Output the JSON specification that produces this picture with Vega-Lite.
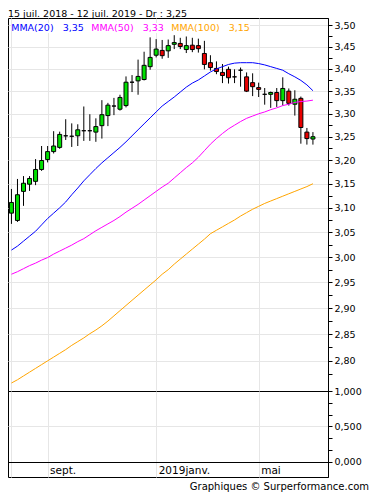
{
  "$schema": "https://vega.github.io/schema/vega-lite/v6.json",
  "background": "white",
  "padding": {"left": 7, "right": 7, "top": 8, "bottom": 3},
  "title": {"text": "15 juil. 2018 - 12 juil. 2019 - Dr : 3,25", "anchor": "start", "frame": "group", "font": "DejaVu Sans", "fontSize": 9.5, "fontWeight": "normal", "color": "#000", "baseline": "alphabetic", "offset": -8.7},
  "config": {
    "view": {"stroke": "#000", "strokeWidth": 1},
    "font": "DejaVu Sans",
    "axis": {"labelFont": "DejaVu Sans", "labelColor": "#000", "tickColor": "#000", "domainColor": "#000", "gridColor": "#e6e6e6", "labelOverlap": false, "labelFlush": false}
  },
  "datasets": {
    "candles": [
      {"date": "2018-07-23", "open": 3.089, "high": 3.139, "low": 3.067, "close": 3.111, "ma20": 3.014, "ma50": 2.966, "ma100": 2.759},
      {"date": "2018-07-30", "open": 3.074, "high": 3.160, "low": 3.071, "close": 3.127, "ma20": 3.022, "ma50": 2.971, "ma100": 2.765},
      {"date": "2018-08-06", "open": 3.134, "high": 3.166, "low": 3.104, "close": 3.151, "ma20": 3.032, "ma50": 2.977, "ma100": 2.772},
      {"date": "2018-08-13", "open": 3.149, "high": 3.166, "low": 3.135, "close": 3.161, "ma20": 3.042, "ma50": 2.983, "ma100": 2.779},
      {"date": "2018-08-20", "open": 3.155, "high": 3.202, "low": 3.147, "close": 3.180, "ma20": 3.052, "ma50": 2.988, "ma100": 2.786},
      {"date": "2018-08-27", "open": 3.180, "high": 3.230, "low": 3.177, "close": 3.199, "ma20": 3.065, "ma50": 2.994, "ma100": 2.793},
      {"date": "2018-09-03", "open": 3.201, "high": 3.230, "low": 3.195, "close": 3.218, "ma20": 3.078, "ma50": 2.999, "ma100": 2.800},
      {"date": "2018-09-10", "open": 3.218, "high": 3.262, "low": 3.214, "close": 3.230, "ma20": 3.089, "ma50": 3.006, "ma100": 2.807},
      {"date": "2018-09-17", "open": 3.227, "high": 3.261, "low": 3.224, "close": 3.255, "ma20": 3.100, "ma50": 3.012, "ma100": 2.814},
      {"date": "2018-09-24", "open": 3.252, "high": 3.288, "low": 3.243, "close": 3.252, "ma20": 3.112, "ma50": 3.018, "ma100": 2.821},
      {"date": "2018-10-01", "open": 3.251, "high": 3.279, "low": 3.228, "close": 3.251, "ma20": 3.127, "ma50": 3.024, "ma100": 2.829},
      {"date": "2018-10-08", "open": 3.252, "high": 3.277, "low": 3.230, "close": 3.265, "ma20": 3.141, "ma50": 3.031, "ma100": 2.836},
      {"date": "2018-10-15", "open": 3.263, "high": 3.316, "low": 3.241, "close": 3.263, "ma20": 3.156, "ma50": 3.037, "ma100": 2.843},
      {"date": "2018-10-22", "open": 3.263, "high": 3.299, "low": 3.241, "close": 3.263, "ma20": 3.169, "ma50": 3.045, "ma100": 2.851},
      {"date": "2018-10-29", "open": 3.260, "high": 3.290, "low": 3.239, "close": 3.272, "ma20": 3.182, "ma50": 3.053, "ma100": 2.858},
      {"date": "2018-11-05", "open": 3.274, "high": 3.330, "low": 3.246, "close": 3.298, "ma20": 3.194, "ma50": 3.060, "ma100": 2.866},
      {"date": "2018-11-12", "open": 3.296, "high": 3.324, "low": 3.273, "close": 3.319, "ma20": 3.205, "ma50": 3.067, "ma100": 2.875},
      {"date": "2018-11-19", "open": 3.317, "high": 3.335, "low": 3.297, "close": 3.317, "ma20": 3.216, "ma50": 3.074, "ma100": 2.885},
      {"date": "2018-11-26", "open": 3.310, "high": 3.342, "low": 3.307, "close": 3.336, "ma20": 3.227, "ma50": 3.082, "ma100": 2.895},
      {"date": "2018-12-03", "open": 3.318, "high": 3.383, "low": 3.314, "close": 3.370, "ma20": 3.239, "ma50": 3.091, "ma100": 2.905},
      {"date": "2018-12-10", "open": 3.370, "high": 3.386, "low": 3.348, "close": 3.370, "ma20": 3.252, "ma50": 3.099, "ma100": 2.915},
      {"date": "2018-12-17", "open": 3.373, "high": 3.421, "low": 3.342, "close": 3.383, "ma20": 3.265, "ma50": 3.107, "ma100": 2.925},
      {"date": "2018-12-24", "open": 3.376, "high": 3.439, "low": 3.374, "close": 3.408, "ma20": 3.278, "ma50": 3.116, "ma100": 2.935},
      {"date": "2018-12-31", "open": 3.405, "high": 3.472, "low": 3.398, "close": 3.426, "ma20": 3.291, "ma50": 3.125, "ma100": 2.945},
      {"date": "2019-01-07", "open": 3.431, "high": 3.468, "low": 3.426, "close": 3.445, "ma20": 3.304, "ma50": 3.134, "ma100": 2.955},
      {"date": "2019-01-14", "open": 3.442, "high": 3.466, "low": 3.423, "close": 3.430, "ma20": 3.317, "ma50": 3.143, "ma100": 2.966},
      {"date": "2019-01-21", "open": 3.441, "high": 3.467, "low": 3.425, "close": 3.453, "ma20": 3.327, "ma50": 3.151, "ma100": 2.975},
      {"date": "2019-01-28", "open": 3.456, "high": 3.477, "low": 3.445, "close": 3.460, "ma20": 3.337, "ma50": 3.162, "ma100": 2.986},
      {"date": "2019-02-04", "open": 3.458, "high": 3.471, "low": 3.445, "close": 3.451, "ma20": 3.348, "ma50": 3.173, "ma100": 2.996},
      {"date": "2019-02-11", "open": 3.444, "high": 3.474, "low": 3.436, "close": 3.453, "ma20": 3.359, "ma50": 3.184, "ma100": 3.006},
      {"date": "2019-02-18", "open": 3.454, "high": 3.471, "low": 3.438, "close": 3.444, "ma20": 3.368, "ma50": 3.194, "ma100": 3.016},
      {"date": "2019-02-25", "open": 3.453, "high": 3.469, "low": 3.437, "close": 3.446, "ma20": 3.375, "ma50": 3.206, "ma100": 3.026},
      {"date": "2019-03-04", "open": 3.435, "high": 3.464, "low": 3.399, "close": 3.410, "ma20": 3.384, "ma50": 3.220, "ma100": 3.036},
      {"date": "2019-03-11", "open": 3.414, "high": 3.431, "low": 3.396, "close": 3.403, "ma20": 3.393, "ma50": 3.234, "ma100": 3.047},
      {"date": "2019-03-18", "open": 3.401, "high": 3.417, "low": 3.388, "close": 3.394, "ma20": 3.400, "ma50": 3.246, "ma100": 3.054},
      {"date": "2019-03-25", "open": 3.392, "high": 3.411, "low": 3.368, "close": 3.385, "ma20": 3.405, "ma50": 3.257, "ma100": 3.061},
      {"date": "2019-04-01", "open": 3.399, "high": 3.405, "low": 3.367, "close": 3.380, "ma20": 3.410, "ma50": 3.267, "ma100": 3.068},
      {"date": "2019-04-08", "open": 3.382, "high": 3.399, "low": 3.368, "close": 3.382, "ma20": 3.413, "ma50": 3.275, "ma100": 3.075},
      {"date": "2019-04-15", "open": 3.397, "high": 3.403, "low": 3.360, "close": 3.397, "ma20": 3.414, "ma50": 3.283, "ma100": 3.083},
      {"date": "2019-04-22", "open": 3.382, "high": 3.392, "low": 3.348, "close": 3.350, "ma20": 3.414, "ma50": 3.290, "ma100": 3.090},
      {"date": "2019-04-29", "open": 3.369, "high": 3.390, "low": 3.339, "close": 3.360, "ma20": 3.414, "ma50": 3.295, "ma100": 3.097},
      {"date": "2019-05-06", "open": 3.358, "high": 3.369, "low": 3.337, "close": 3.354, "ma20": 3.412, "ma50": 3.300, "ma100": 3.103},
      {"date": "2019-05-13", "open": 3.343, "high": 3.357, "low": 3.320, "close": 3.343, "ma20": 3.409, "ma50": 3.304, "ma100": 3.109},
      {"date": "2019-05-20", "open": 3.343, "high": 3.349, "low": 3.313, "close": 3.347, "ma20": 3.405, "ma50": 3.309, "ma100": 3.114},
      {"date": "2019-05-27", "open": 3.347, "high": 3.357, "low": 3.315, "close": 3.329, "ma20": 3.401, "ma50": 3.313, "ma100": 3.119},
      {"date": "2019-06-03", "open": 3.329, "high": 3.381, "low": 3.318, "close": 3.356, "ma20": 3.397, "ma50": 3.318, "ma100": 3.124},
      {"date": "2019-06-10", "open": 3.350, "high": 3.356, "low": 3.318, "close": 3.323, "ma20": 3.389, "ma50": 3.321, "ma100": 3.129},
      {"date": "2019-06-17", "open": 3.321, "high": 3.352, "low": 3.296, "close": 3.332, "ma20": 3.382, "ma50": 3.325, "ma100": 3.134},
      {"date": "2019-06-24", "open": 3.334, "high": 3.338, "low": 3.235, "close": 3.270, "ma20": 3.374, "ma50": 3.327, "ma100": 3.139},
      {"date": "2019-07-01", "open": 3.260, "high": 3.269, "low": 3.233, "close": 3.246, "ma20": 3.364, "ma50": 3.328, "ma100": 3.144},
      {"date": "2019-07-08", "open": 3.245, "high": 3.260, "low": 3.233, "close": 3.250, "ma20": 3.351, "ma50": 3.330, "ma100": 3.150}
    ]
  },
  "columns": 2,
  "spacing": 0,
  "bounds": "flush",
  "concat": [
    {
      "width": 320,
      "height": 373,
      "data": {"name": "candles"},
      "encoding": {
        "x": {
          "field": "date", "type": "temporal",
          "scale": {"type": "utc", "nice": false, "padding": 0, "domain": [{"year": 2018, "month": 7, "date": 19, "utc": true}, {"year": 2019, "month": 7, "date": 25, "hours": 12, "utc": true}]},
          "axis": {
            "values": [{"year": 2018, "month": 7, "date": 23, "utc": true}, {"year": 2018, "month": 9, "date": 3, "utc": true}, {"year": 2019, "month": 1, "date": 7, "utc": true}, {"year": 2019, "month": 5, "date": 6, "utc": true}],
            "grid": true, "labels": false, "ticks": false, "domain": false, "title": null
          }
        }
      },
      "layer": [
        {
          "mark": {"type": "rule", "color": "#000", "strokeWidth": 1},
          "encoding": {
            "y": {
              "field": "low", "type": "quantitative",
              "scale": {"type": "log", "domain": [2.7444, 3.517], "nice": false, "zero": false},
              "axis": {"orient": "left", "values": [2.8, 2.85, 2.9, 2.95, 3.0, 3.05, 3.1, 3.15, 3.2, 3.25, 3.3, 3.35, 3.4, 3.45, 3.5], "grid": true, "labels": false, "ticks": false, "domain": false, "title": null}
            },
            "y2": {"field": "high"}
          }
        },
        {
          "mark": {"type": "bar", "size": 4, "stroke": "#000", "strokeWidth": 1},
          "encoding": {
            "y": {
              "field": "open", "type": "quantitative",
              "axis": {
                "orient": "right",
                "values": [2.775, 2.8, 2.825, 2.85, 2.875, 2.9, 2.925, 2.95, 2.975, 3.0, 3.025, 3.05, 3.075, 3.1, 3.125, 3.15, 3.175, 3.2, 3.225, 3.25, 3.275, 3.3, 3.325, 3.35, 3.375, 3.4, 3.425, 3.45, 3.475, 3.5],
                "grid": false, "tickSize": 4, "labelPadding": 2, "labelFontSize": 9.5, "title": null,
                "labelExpr": "abs(datum.value * 20 - round(datum.value * 20)) < 0.001 ? replace(format(datum.value, '.2f'), '.', ',') : ''"
              }
            },
            "y2": {"field": "close"},
            "fill": {
              "condition": [
                {"test": "datum.close > datum.open", "value": "#00e000"},
                {"test": "datum.close < datum.open", "value": "#e80000"}
              ],
              "value": "#000000"
            }
          }
        },
        {
          "transform": [{"fold": ["ma20", "ma50", "ma100"], "as": ["serie", "valeur"]}],
          "mark": {"type": "line", "strokeWidth": 1},
          "encoding": {
            "y": {"field": "valeur", "type": "quantitative", "axis": null},
            "color": {
              "field": "serie", "type": "nominal",
              "scale": {"domain": ["ma20", "ma50", "ma100"], "range": ["#0000ff", "#ff00ff", "#ffa500"]},
              "legend": {
                "orient": "top-left", "direction": "horizontal", "title": null,
                "offset": 5, "padding": 0, "fillColor": "white",
                "labelFont": "DejaVu Sans", "labelFontSize": 9.5, "labelOffset": -11.3,
                "symbolSize": 0.001, "symbolStrokeWidth": 0.001, "symbolOpacity": 0,
                "columnPadding": 7,
                "labelExpr": "datum.value == 'ma20' ? 'MMA(20)\u00a0\u00a0\u00a03,35' : datum.value == 'ma50' ? 'MMA(50)\u00a0\u00a0\u00a03,33' : 'MMA(100)\u00a0\u00a0\u00a03,15'",
                "encode": {"labels": {"update": {"fill": {"signal": "datum.value == 'ma20' ? '#0000ff' : datum.value == 'ma50' ? '#ff00ff' : '#ffa500'"}}}}
              }
            }
          }
        }
      ],
      "resolve": {"axis": {"y": "independent"}}
    },
    {
      "width": 41,
      "height": 373,
      "data": {"values": []},
      "mark": "point"
    },
    {
      "width": 320,
      "height": 86,
      "data": {"values": []},
      "encoding": {
        "x": {
          "field": "date", "type": "temporal",
          "scale": {"type": "utc", "nice": false, "padding": 0, "domain": [{"year": 2018, "month": 7, "date": 19, "utc": true}, {"year": 2019, "month": 7, "date": 25, "hours": 12, "utc": true}]},
          "axis": {
            "values": [{"year": 2018, "month": 7, "date": 23, "utc": true}, {"year": 2018, "month": 9, "date": 3, "utc": true}, {"year": 2019, "month": 1, "date": 7, "utc": true}, {"year": 2019, "month": 5, "date": 6, "utc": true}],
            "orient": "bottom", "offset": -15, "grid": true, "domain": true, "ticks": false,
            "labelExpr": "utcmonth(datum.value) == 8 ? 'sept.' : utcmonth(datum.value) == 0 ? '2019janv.' : utcmonth(datum.value) == 4 ? 'mai' : ''",
            "labelAlign": "left", "labelOffset": 2, "labelPadding": 3, "labelBaseline": "top", "labelFontSize": 10.5, "title": null
          }
        }
      },
      "layer": [
        {
          "mark": {"type": "rule"},
          "encoding": {
            "y": {
              "field": "volume", "type": "quantitative",
              "scale": {"domain": [-0.2113, 1], "nice": false, "zero": false},
              "axis": {"orient": "left", "values": [0.5], "grid": true, "labels": false, "ticks": false, "domain": false, "title": null}
            }
          }
        },
        {
          "mark": {"type": "rule"},
          "encoding": {
            "y": {
              "field": "volume", "type": "quantitative",
              "axis": {
                "orient": "right", "values": [0, 0.16667, 0.33333, 0.5, 0.66667, 0.83333, 1],
                "grid": false, "tickSize": 4, "labelPadding": 2, "labelFontSize": 9.5, "title": null,
                "labelExpr": "abs(datum.value * 2 - round(datum.value * 2)) < 0.001 ? replace(format(datum.value, '.3f'), '.', ',') : ''"
              }
            }
          }
        }
      ],
      "resolve": {"axis": {"y": "independent"}}
    },
    {
      "width": 41,
      "height": 86,
      "data": {"values": []},
      "mark": "point",
      "title": {"text": "Graphiques © Surperformance.com", "orient": "bottom", "anchor": "end", "frame": "group", "font": "DejaVu Sans", "fontSize": 10, "fontWeight": "normal", "color": "#000", "baseline": "alphabetic", "offset": 12.5}
    }
  ]
}
